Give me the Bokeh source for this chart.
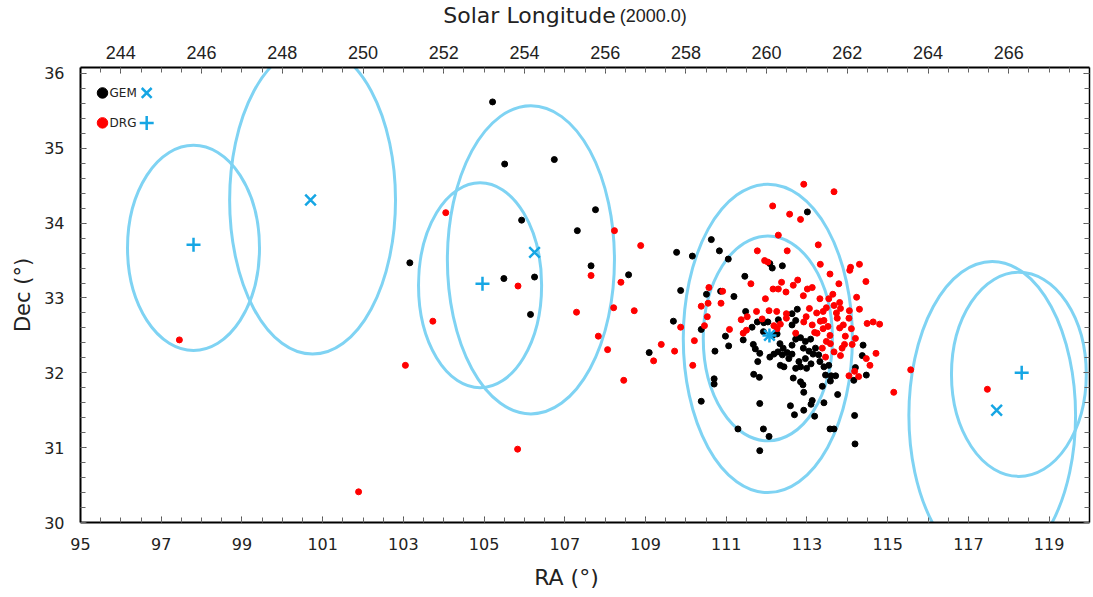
import numpy as np
from bokeh.plotting import figure
from bokeh.layouts import column
from bokeh.models import LinearAxis, FixedTicker, Label, Range1d
from bokeh.embed import file_html
from bokeh.resources import INLINE

# ---------------- data (RA, Dec in degrees) ----------------
gem_ra = [103.16, 105.21, 105.51, 105.93, 105.49, 106.74, 107.76, 107.31, 109.77, 107.65,
          108.58, 106.25, 106.15, 109.69, 109.09, 109.87,
          110.63, 110.83, 110.16, 111.05, 112.08, 112.14, 112.39, 111.46, 110.86, 110.51,
          111.19, 111.48, 113.01, 112.76, 112.63,
          110.38, 110.98, 111.42, 111.06, 110.72, 111.67, 111.72, 111.83, 111.77, 111.64,
          111.93, 112.03, 112.29, 111.92, 112.15, 112.26, 112.33, 112.08, 112.18, 112.28,
          112.41, 112.39, 112.51, 112.55, 111.78, 112.34, 112.43, 111.68, 111.82, 110.70,
          110.70, 110.38, 111.83, 112.59, 111.29, 111.92, 112.06, 111.83,
          112.72, 112.63, 112.72, 112.84, 112.96, 113.09, 112.63, 112.91, 113.05, 113.21,
          113.15, 113.29, 112.96, 112.80, 112.63, 112.72, 112.84, 112.99, 113.10, 113.32,
          113.42, 113.54, 113.46, 113.60, 113.71, 112.66, 112.84, 112.90, 113.38, 113.58,
          112.92, 113.76, 113.13, 113.10, 113.42, 112.92, 112.69, 113.19, 114.18, 113.57,
          113.67, 114.19, 114.39, 114.37, 114.20, 114.47, 114.16]
gem_dec = [33.47, 35.62, 34.79, 34.04, 33.26, 34.85, 34.18, 33.90, 33.61, 33.43,
           33.31, 33.28, 32.78, 32.69, 32.27, 33.10,
           33.78, 33.63, 33.56, 33.52, 33.46, 33.40, 33.43, 33.29, 33.09, 33.05,
           33.02, 32.82, 34.15, 32.85, 32.79,
           32.58, 32.49, 32.44, 32.36, 32.29, 32.38, 32.32, 32.26, 32.68, 32.61,
           32.67, 32.68, 32.71, 32.55, 32.50, 32.52, 32.39, 32.21, 32.25, 32.28,
           32.33, 32.24, 32.27, 32.19, 32.15, 32.10, 32.08, 31.98, 31.94, 31.92,
           31.85, 31.62, 31.59, 31.56, 31.25, 31.25, 31.15, 30.96,
           32.70, 32.64, 32.45, 32.47, 32.42, 32.45, 32.37, 32.33, 32.29, 32.33,
           32.25, 32.24, 32.19, 32.15, 32.25, 32.06, 32.08, 32.06, 32.12, 32.15,
           32.08, 32.10, 31.97, 31.96, 31.96, 31.93, 31.88, 31.84, 31.82, 31.89,
           31.74, 31.71, 31.63, 31.58, 31.60, 31.50, 31.44, 31.42, 31.43, 31.25,
           31.25, 31.05, 32.37, 32.23, 32.07, 31.97, 31.90]

drg_ra = [97.45, 101.89, 104.05, 103.73, 103.05, 105.84, 105.83, 108.23, 108.88, 107.65,
          108.39, 107.29, 108.21, 108.72, 107.83, 108.06, 109.39, 109.72, 109.20, 108.46,
          109.87,
          112.15, 112.57, 112.29, 111.77, 112.51, 111.95, 112.03, 111.61, 112.16, 112.29,
          112.37, 112.48, 110.57, 110.91, 110.55, 110.38, 110.87, 111.97, 111.75, 112.06,
          112.25, 112.49,
          112.92, 113.67, 112.84, 113.28, 113.33, 114.08, 114.06, 114.30, 113.57, 114.46,
          112.77, 112.66, 113.01, 113.13, 113.79, 112.91, 113.64, 113.32, 113.54, 114.23,
          113.81, 113.67, 113.83, 113.48, 113.06, 113.40, 113.24, 113.73, 114.05, 114.30,
          110.53, 110.46, 110.21, 110.17, 111.08, 111.37, 111.52, 111.42, 111.50, 111.89,
          112.18, 112.26, 112.34, 112.49,
          112.72, 112.92, 112.98, 113.13, 113.19, 113.33, 113.40, 113.42, 113.52, 113.25,
          113.38, 113.48, 113.57, 113.58, 113.67, 113.46, 113.75, 113.81, 113.90, 113.95,
          113.93, 113.87, 113.83, 114.04, 114.10, 114.12, 114.20, 114.49, 114.64, 114.80,
          114.47, 114.71, 114.56, 114.18, 114.28, 114.04, 115.15, 115.57, 117.47]
drg_dec = [32.44, 30.41, 34.14, 32.69, 32.10, 33.16, 30.98, 33.90, 33.70, 33.30,
           33.21, 32.81, 32.87, 32.83, 32.49, 32.31, 32.38, 32.29, 32.16, 31.90,
           32.61,
           34.23, 34.12, 33.84, 33.63, 33.63, 33.50, 33.48, 33.19, 33.12, 33.12,
           33.21, 33.08, 33.14, 33.09, 32.93, 32.89, 32.93, 32.99, 32.82, 32.83,
           32.82, 32.79,
           34.52, 34.42, 34.05, 33.71, 33.45, 33.41, 33.37, 33.45, 33.32, 33.22,
           33.24, 33.17, 33.12, 33.14, 33.19, 33.03, 33.05, 32.99, 32.99, 33.01,
           32.94, 32.90, 32.86, 32.87, 32.86, 32.82, 32.80, 32.80, 32.83, 32.85,
           32.75, 32.63, 32.43, 32.10, 32.58, 32.71, 32.75, 32.53, 32.57, 32.72,
           32.63, 32.59, 32.65, 32.73,
           32.53, 32.68, 32.75, 32.64, 32.54, 32.69, 32.59, 32.70, 32.62, 32.53,
           32.33, 32.42, 32.50, 32.39, 32.28, 32.21, 32.73, 32.60, 32.64, 32.49,
           32.38, 32.33, 32.23, 32.73, 32.59, 32.38, 32.46, 32.66, 32.68, 32.65,
           32.19, 32.26, 32.10, 32.02, 31.95, 31.96, 31.74, 32.04, 31.78]

# radiant positions
gem_rad_ra = [100.70, 106.25, 112.07, 117.70]
gem_rad_dec = [34.31, 33.61, 32.50, 31.50]
drg_rad_ra = [97.80, 104.96, 112.07, 118.32]
drg_rad_dec = [33.71, 33.19, 32.50, 32.00]

# search ellipses
ell_ra = [97.80, 100.75, 104.90, 106.16, 112.03, 112.03, 118.25, 117.59]
ell_dec = [33.67, 34.31, 33.17, 33.51, 32.46, 32.46, 31.98, 31.43]
ell_w = [3.27, 4.11, 3.05, 4.14, 4.19, 3.20, 3.34, 4.13]
ell_h = [2.74, 4.12, 2.74, 4.12, 4.12, 2.74, 2.73, 4.12]

# axes
ra_ticks = list(range(95, 120, 2))
dec_ticks = list(range(30, 37))
sol_tick_ra = list(range(96, 119, 2))
sol_labels = [str(v) for v in range(244, 267, 2)]

ELL_COLOR = "#7fd3f3"
MARK_COLOR = "#16a6e4"
FONT = "DejaVu Sans"
TXT = "#222222"
W = 1093
TOP_H = 35
BOT_H = 40
MAIN_H = 597 - TOP_H - BOT_H

xr = Range1d(95, 120)
yr = Range1d(30, 36.08)


def text_strip(height):
    f = figure(width=W, height=height, x_range=xr, y_range=Range1d(0, height),
               output_backend="svg", toolbar_location=None, min_border=0,
               x_axis_location=None, y_axis_location=None)
    f.xgrid.visible = False
    f.ygrid.visible = False
    f.outline_line_color = None
    return f


# title strip above the plot (x in RA units, y in pixels of the strip)
tf = text_strip(TOP_H)
tf.add_layout(Label(x=103.99, y=20, text="Solar Longitude", text_align="left",
                    text_baseline="alphabetic", text_font=FONT, text_font_size="22px",
                    text_color=TXT))
tf.add_layout(Label(x=108.36, y=20, text="(2000.0)", text_align="left",
                    text_baseline="alphabetic", text_font="Liberation Sans", text_font_size="18px",
                    text_color=TXT))

# x title strip below the plot
bf = text_strip(BOT_H)
bf.add_layout(Label(x=107.04, y=20, text="RA (°)", text_align="center",
                    text_baseline="middle", text_font=FONT, text_font_size="22px",
                    text_color=TXT))

p = figure(width=W, height=MAIN_H, x_range=xr, y_range=yr,
           output_backend="svg", toolbar_location=None,
           min_border_left=80, min_border_right=4, min_border_top=67 - TOP_H,
           min_border_bottom=597 - BOT_H - 522)
p.xgrid.visible = False
p.ygrid.visible = False
p.outline_line_color = None

p.ellipse(x=ell_ra, y=ell_dec, width=ell_w, height=ell_h, fill_color=None,
          line_color=ELL_COLOR, line_width=3)
p.scatter(gem_ra, gem_dec, size=6, color="black")
p.scatter(drg_ra, drg_dec, size=6, color="red")
p.scatter(gem_rad_ra, gem_rad_dec, marker="x", size=15, line_color=MARK_COLOR, line_width=2.5)
p.scatter(drg_rad_ra, drg_rad_dec, marker="cross", size=14, line_color=MARK_COLOR, line_width=2.5)

# legend (drawn by hand)
leg_x_dot, leg_x_txt, leg_x_mark = 95.545, 95.72, 96.64
leg_y = [35.74, 35.34]
p.scatter([leg_x_dot, leg_x_dot], leg_y, size=10.5, color=["black", "red"])
p.scatter([leg_x_mark], [leg_y[0]], marker="x", size=14, line_color=MARK_COLOR, line_width=2.5)
p.scatter([leg_x_mark], [leg_y[1]], marker="cross", size=14, line_color=MARK_COLOR, line_width=2.5)
for yy, t in zip(leg_y, ["GEM", "DRG"]):
    p.add_layout(Label(x=leg_x_txt, y=yy, text=t, text_baseline="middle", text_align="left",
                       text_font=FONT, text_font_size="12px", text_color=TXT))


def style(ax):
    ax.axis_line_color = "black"
    ax.axis_line_width = 2
    ax.major_tick_in = 6
    ax.major_tick_out = 0
    ax.minor_tick_in = 5
    ax.minor_tick_out = 0
    ax.major_tick_line_color = "#444444"
    ax.minor_tick_line_color = "#666666"
    ax.major_label_text_font = FONT
    ax.major_label_text_font_size = "16px"
    ax.major_label_text_color = TXT


xa = p.xaxis[0]
xa.ticker = FixedTicker(ticks=ra_ticks, minor_ticks=list(np.arange(95, 120.01, 0.5)))
style(xa)
xa.major_label_standoff = 15

ya = p.yaxis[0]
ya.ticker = FixedTicker(ticks=dec_ticks, minor_ticks=list(np.arange(30, 36.01, 0.2)))
style(ya)
ya.major_label_standoff = 16
ya.axis_label = "Dec (°)"
ya.axis_label_text_font = FONT
ya.axis_label_text_font_size = "21px"
ya.axis_label_text_font_style = "normal"
ya.axis_label_text_color = TXT
ya.axis_label_standoff = 6

top = LinearAxis(ticker=FixedTicker(ticks=sol_tick_ra, minor_ticks=list(np.arange(95, 120.01, 0.5))),
                 major_label_overrides={t: s for t, s in zip(sol_tick_ra, sol_labels)})
style(top)
top.major_label_text_font = "Liberation Sans"
top.major_label_text_font_size = "18px"
top.major_label_standoff = 9
p.add_layout(top, "above")

right = LinearAxis(ticker=FixedTicker(ticks=dec_ticks, minor_ticks=list(np.arange(30, 36.01, 0.2))),
                   major_label_overrides={t: "" for t in dec_ticks})
style(right)
right.axis_line_width = 1.5
p.add_layout(right, "right")

layout = column(tf, p, bf, spacing=0)
open("out.html", "w").write(file_html(layout, INLINE))
